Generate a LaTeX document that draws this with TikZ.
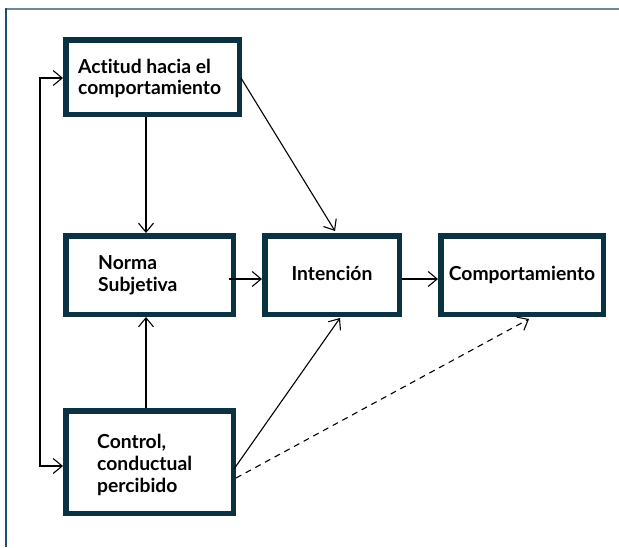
\documentclass[tikz,border=0pt]{standalone}
\usepackage{fontspec}
\setmainfont{Lato}[Ligatures=NoCommon]
\usetikzlibrary{arrows.meta,calc}
\definecolor{boxcol}{RGB}{11,50,67}
\definecolor{topcol}{RGB}{110,135,148}
\definecolor{leftcol}{RGB}{30,80,105}
\tikzset{
  box/.style={draw=boxcol, line width=5.5pt, fill=white, inner sep=0pt},
  lbl/.style={anchor=base west, inner sep=0pt, font=\fontsize{19.3}{22}\selectfont\bfseries},
  clbl/.style={anchor=base, inner sep=0pt, font=\fontsize{19.3}{22}\selectfont\bfseries},
  arr/.style={draw=black, line width=1.1pt, -{Straight Barb[length=9pt,width=15pt]}},
  arrboth/.style={draw=black, line width=1.1pt, {Straight Barb[length=9pt,width=15pt]}-{Straight Barb[length=9pt,width=15pt]}}
}
\begin{document}
\begin{tikzpicture}[x=1pt,y=-1pt]
\useasboundingbox (0,0) rectangle (619,547);
\fill[white] (0,0) rectangle (619,547);
% frame
\draw[topcol, line width=2pt] (6,8.5) -- (619,8.5);
\draw[leftcol, line width=1.5pt] (6,8) -- (6,547);
% boxes
\node[box, minimum width=173.5pt, minimum height=74.5pt] (actitud) at (152.5,77) {};
\node[box, minimum width=167.5pt, minimum height=78.5pt] (norma) at (149.5,275) {};
\node[box, minimum width=134.5pt, minimum height=78.5pt] (intencion) at (332,275) {};
\node[box, minimum width=162.5pt, minimum height=78.5pt] (comp) at (522,275) {};
\node[box, minimum width=167.5pt, minimum height=102.5pt] (control) at (149.5,462) {};
% labels
\node[lbl] (t1) at (78,73) {Actitud hacia el};
\node[lbl] (t2) at (78,94) {comportamiento};
\node[lbl] (t3) at (98,269) {Norma};
\node[lbl] (t4) at (98,291) {Subjetiva};
\node[clbl] (t5) at (332,280) {Intención};
\node[clbl] (t6) at (522,280) {Comportamiento};
\node[lbl] (t7) at (97,448) {Control,};
\node[lbl] (t8) at (97,470) {conductual};
\node[lbl] (t9) at (97,492) {percibido};
% connectors
\draw[arr] ($(actitud.south)+(-6.5,0)$) -- ($(norma.north)+(-3.5,0)$);
\draw[arr] ($(control.north)+(-3.5,0)$) -- ($(norma.south)+(-3.5,0)$);
\draw[arr] ($(norma.east)+(-7,4)$) -- ($(intencion.west)+(0,4)$);
\draw[arr] ($(intencion.east)+(0,4)$) -- ($(comp.west)+(0,4)$);
\draw[arr] ($(actitud.east)+(-1,1)$) -- ($(intencion.north)+(3,-2)$);
\draw[arr] ($(control.east)+(-2,7)$) -- ($(intencion.south)+(8,1)$);
\draw[arr, dash pattern=on 6pt off 5pt] ($(control.east)+(0,16)$) -- ($(comp.south)+(7,2)$);
\draw[arrboth] ($(actitud.west)+(0,1)$) -- ++(-23,0) |- ($(control.west)+(0,4)$);
\end{tikzpicture}
\end{document}
